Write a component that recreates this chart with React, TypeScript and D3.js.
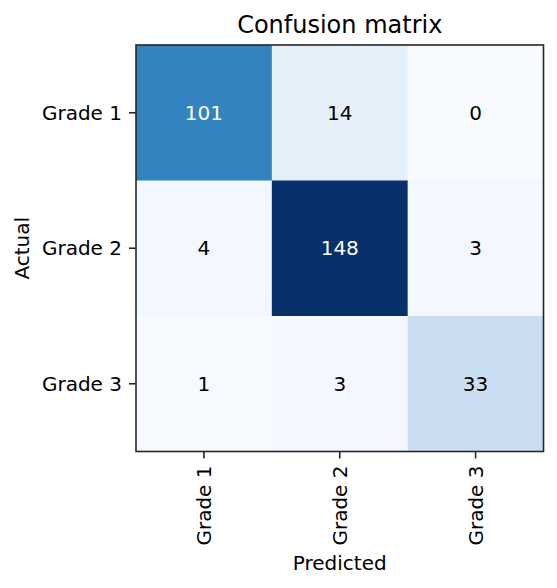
import React from 'react';
import * as d3 from 'd3';

const grades = ['Grade 1', 'Grade 2', 'Grade 3'];
// rows = actual, columns = predicted
const row1 = [101, 14, 0];
const row2 = [4, 148, 3];
const row3 = [1, 3, 33];
const matrix = [row1, row2, row3];

// matplotlib "Blues" stops
const blues = ['#f7fbff', '#deebf7', '#c6dbef', '#9ecae1', '#6baed6', '#4292c6', '#2171b5', '#08519c', '#08306b'];

const width = 557;
const height = 588;
const margin = { top: 45, right: 13.5, bottom: 136.5, left: 136 };
const font = 'DejaVu Sans, sans-serif';

const App = () => {
  const innerW = width - margin.left - margin.right;
  const innerH = height - margin.top - margin.bottom;

  const x = d3.scaleBand().domain(grades).range([0, innerW]).padding(0);
  const y = d3.scaleBand().domain(grades).range([0, innerH]).padding(0);

  const maxVal = d3.max(matrix.flat()) ?? 1;
  const color = d3.scaleLinear<string>()
    .domain(blues.map((_, i) => (i / (blues.length - 1)) * maxVal))
    .range(blues)
    .interpolate(d3.interpolateRgb);
  const thresh = maxVal / 2;

  const cells = matrix.flatMap((row, i) => row.map((v, j) => ({ actual: grades[i], pred: grades[j], v })));

  return (
    <svg width={width} height={height} style={{ position: 'absolute', left: 0, top: 0, background: '#fff' }}>
      <g transform={`translate(${margin.left},${margin.top})`} fontFamily={font}>
        {cells.map((c, k) => (
          <rect key={k} x={x(c.pred)} y={y(c.actual)} width={x.bandwidth() + 0.5} height={y.bandwidth() + 0.5}
            fill={color(c.v)} />
        ))}
        {cells.map((c, k) => (
          <text key={'t' + k} x={(x(c.pred) ?? 0) + x.bandwidth() / 2} y={(y(c.actual) ?? 0) + y.bandwidth() / 2}
            textAnchor="middle" dominantBaseline="central" fontSize={20}
            fill={c.v > thresh ? '#fff' : '#000'}>{c.v}</text>
        ))}
        <rect x={0} y={0} width={innerW} height={innerH} fill="none" stroke="#262626" strokeWidth={1.6} />

        {/* x axis */}
        {grades.map(g => {
          const cx = (x(g) ?? 0) + x.bandwidth() / 2;
          return (
            <g key={'x' + g}>
              <line x1={cx} x2={cx} y1={innerH} y2={innerH + 7} stroke="#262626" strokeWidth={1.6} />
              <text transform={`translate(${cx},${innerH + 14}) rotate(-90)`} textAnchor="end"
                dominantBaseline="central" fontSize={20} fill="#000">{g}</text>
            </g>
          );
        })}
        {/* y axis */}
        {grades.map(g => {
          const cy = (y(g) ?? 0) + y.bandwidth() / 2;
          return (
            <g key={'y' + g}>
              <line x1={-7} x2={0} y1={cy} y2={cy} stroke="#262626" strokeWidth={1.6} />
              <text x={-14} y={cy} textAnchor="end" dominantBaseline="central" fontSize={20} fill="#000">{g}</text>
            </g>
          );
        })}

        <text x={innerW / 2} y={-12} textAnchor="middle" fontSize={24} fill="#000">Confusion matrix</text>
        <text x={innerW / 2} y={525} textAnchor="middle" fontSize={20} fill="#000">Predicted</text>
        <text transform={`translate(${-107},${innerH / 2}) rotate(-90)`} textAnchor="middle" fontSize={20}
          fill="#000">Actual</text>
      </g>
    </svg>
  );
};

export default App;
